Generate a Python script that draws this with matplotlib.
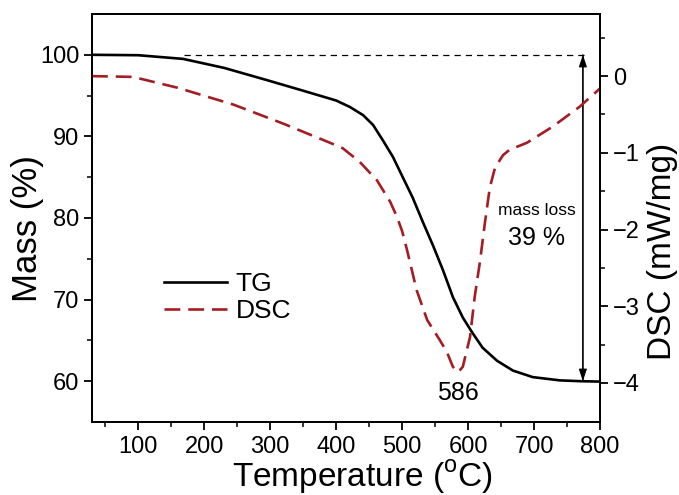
import numpy as np
import matplotlib
matplotlib.use('AGG')
import matplotlib.pyplot as plt

plt.rcParams['font.family'] = ['Liberation Sans', 'DejaVu Sans']
plt.rcParams['mathtext.fontset'] = 'custom'
plt.rcParams['mathtext.rm'] = 'Liberation Sans'

# TG curve (mass %)
tg_temp = [30, 100, 168, 230, 295, 350, 400, 421, 441, 456, 471, 486, 501, 516,
           532, 547, 562, 577, 592, 606, 622, 644, 668, 698, 739, 770, 800]
tg_mass = [100.0, 99.95, 99.5, 98.4, 96.9, 95.6, 94.4, 93.6, 92.6, 91.4, 89.5,
           87.5, 85.0, 82.5, 79.4, 76.6, 73.6, 70.3, 67.8, 66.0, 64.1, 62.5,
           61.3, 60.5, 60.1, 60.0, 59.95]

# DSC curve (mW/mg)
dsc_temp = [30, 92, 159, 244, 320, 391, 410, 436, 462, 482, 492, 500, 507, 522,
            538, 557, 568, 577, 585, 592, 603, 610, 618, 626, 633, 641, 653,
            663, 689, 728, 769, 800]
dsc_val = [0.0, -0.01, -0.15, -0.37, -0.62, -0.87, -0.94, -1.12, -1.36, -1.64,
           -1.83, -2.02, -2.25, -2.79, -3.18, -3.44, -3.6, -3.79, -3.86, -3.79,
           -3.4, -2.88, -2.42, -1.88, -1.45, -1.19, -1.03, -0.96, -0.87, -0.66,
           -0.40, -0.16]

mass_start = 100
mass_end = 60
peak_label = '586'
loss_label = '39 %'

fig = plt.figure(figsize=(6.79, 4.95), dpi=100)
ax = fig.add_axes([0.1355, 0.1475, 0.7482, 0.8242])
ax2 = ax.twinx()

l1, = ax.plot(tg_temp, tg_mass, color='black', lw=1.9, label='TG')
l2, = ax2.plot(dsc_temp, dsc_val, color='#a31d24', lw=1.9, ls=(0, (6, 3)), label='DSC')

# reference line and mass loss arrow
ax.plot([170, 784], [mass_start, mass_start], color='black', lw=0.9, ls=(0, (5, 4)))
for y0, y1 in [(mass_end, mass_start), (mass_start, mass_end)]:
    ax.annotate('', xy=(774, y1), xytext=(774, y0),
                arrowprops=dict(arrowstyle='-|>,head_length=0.6,head_width=0.2',
                                color='black', lw=0.9, mutation_scale=12,
                                shrinkA=0, shrinkB=0))
ax.text(704, 80.95, 'mass loss', fontsize=12.5, ha='center', va='center')
ax.text(704, 77.5, loss_label, fontsize=18, ha='center', va='center')
ax.text(585, 58.5, peak_label, fontsize=18, ha='center', va='center')

ax.set_xlim(30, 800)
ax.set_ylim(55, 105)
ax2.set_ylim(-4.51, 0.81)

ax.set_xticks([100, 200, 300, 400, 500, 600, 700, 800])
ax.set_xticks(np.arange(50, 800, 100), minor=True)
ax.set_yticks([60, 70, 80, 90, 100])
ax.set_yticks([65, 75, 85, 95], minor=True)
ax2.set_yticks([-4, -3, -2, -1, 0])
ax2.set_yticks([-3.5, -2.5, -1.5, -0.5, 0.5], minor=True)

for a in (ax, ax2):
    a.tick_params(which='major', direction='out', length=6, width=1.3, labelsize=17)
    a.tick_params(which='minor', direction='out', length=3.5, width=1.1)
    for s in a.spines.values():
        s.set_linewidth(1.3)
ax.tick_params(axis='both', pad=3)
ax.xaxis.set_tick_params(pad=4)

ax.set_xlabel('Temperature (${}^{\\mathrm{o}}$C)', fontsize=24, va='center', ha='center')
ax.set_ylabel('Mass (%)', fontsize=25, va='center', ha='center')
ax2.set_ylabel('DSC (mW/mg)', fontsize=24, va='center', ha='center')
ax.xaxis.set_label_coords(0.532, -0.134)
ax.yaxis.set_label_coords(-0.126, 0.473)
ax2.yaxis.set_label_coords(1.123, 0.419)

ax2.legend(handles=[l1, l2], loc='upper left', bbox_to_anchor=(0.142, 0.367),
           frameon=False, fontsize=19, handlelength=2.4, handletextpad=0.3,
           labelspacing=0.1, borderpad=0, borderaxespad=0)

fig.savefig('out.png', dpi=100)
